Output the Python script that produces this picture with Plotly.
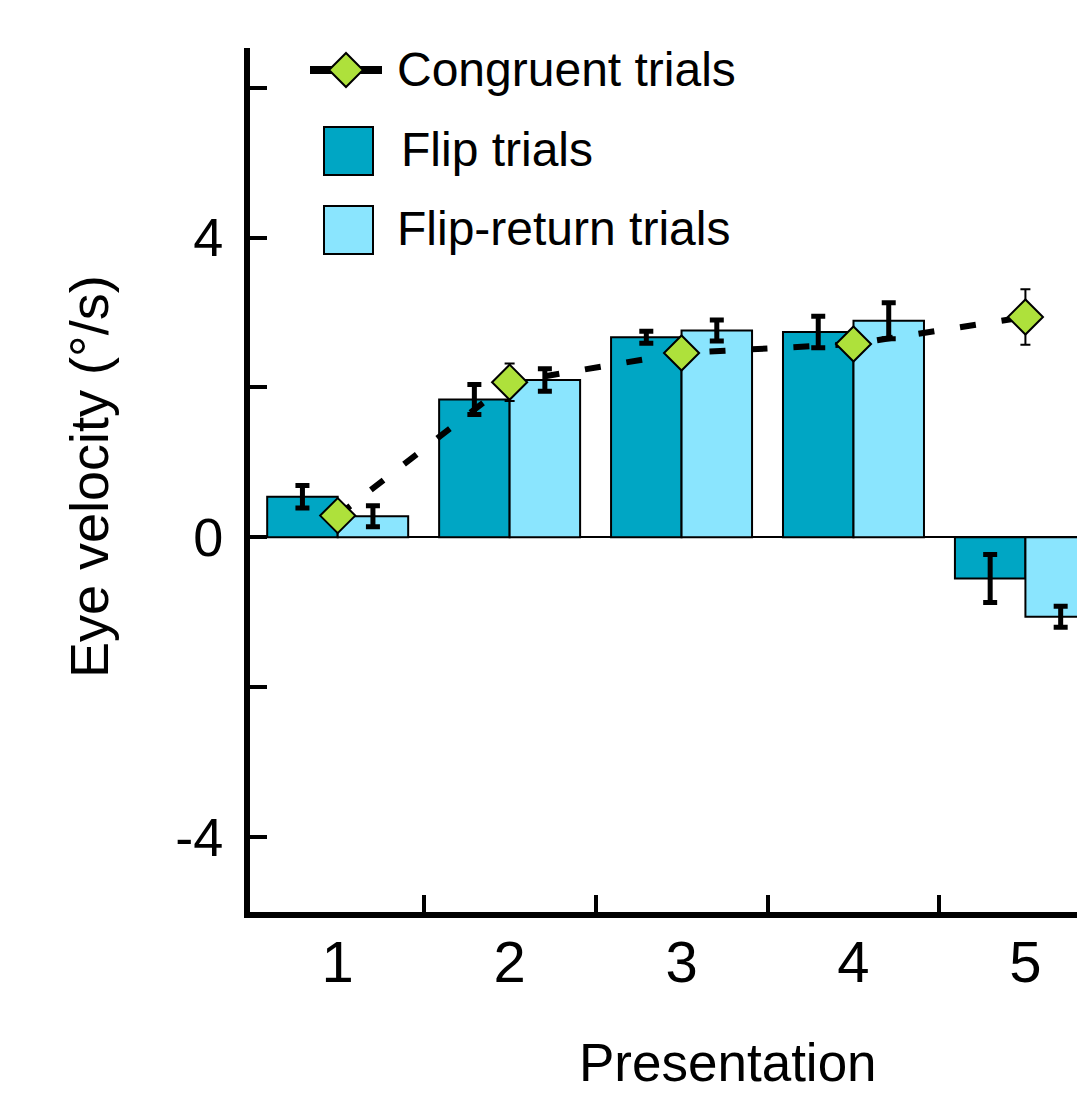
import plotly.graph_objects as go

# ---- data ----
presentations = [1, 2, 3, 4, 5]
tick_labels = ["1", "2", "3", "4", "5"]
flip = [0.54, 1.84, 2.67, 2.74, -0.55]
flip_err = [0.15, 0.20, 0.08, 0.21, 0.32]
flip_return = [0.28, 2.10, 2.76, 2.89, -1.06]
flip_return_err = [0.14, 0.15, 0.14, 0.24, 0.14]
congruent = [0.29, 2.07, 2.46, 2.58, 2.94]
congruent_err = [0.10, 0.25, 0.12, 0.12, 0.37]

series_names = ["Congruent trials", "Flip trials", "Flip-return trials"]
y_tickvals = [-4, -2, 0, 2, 4, 6]
y_ticktext = ["-4", "", "0", "", "4", ""]

# ---- style ----
FONT = "Liberation Sans, Arial, Helvetica, sans-serif"
DARK = "#00A6C4"
LIGHT = "#8AE5FE"
GREEN = "#AEE13B"

W, H = 1077, 1094
ML, MR, MT, MB = 250, 0, 48, 182
PW, PH = W - ML - MR, H - MT - MB


def px(x):
    return (x - ML) / PW


def py(y):
    return (H - MB - y) / PH


fig = go.Figure()

fig.add_trace(go.Bar(
    x=presentations, y=flip, name=series_names[1],
    marker=dict(color=DARK, line=dict(color="black", width=2)),
    error_y=dict(type="data", array=flip_err, color="black", thickness=5, width=7),
    showlegend=False,
))
fig.add_trace(go.Bar(
    x=presentations, y=flip_return, name=series_names[2],
    marker=dict(color=LIGHT, line=dict(color="black", width=2)),
    error_y=dict(type="data", array=flip_return_err, color="black", thickness=5, width=7),
    showlegend=False,
))
fig.add_trace(go.Scatter(
    x=presentations, y=congruent, name=series_names[0],
    mode="lines+markers",
    line=dict(color="black", width=6, dash="16px,26px"),
    marker=dict(symbol="diamond", size=27, color=GREEN, line=dict(color="black", width=2)),
    error_y=dict(type="data", array=congruent_err, color="black", thickness=2, width=5),
    showlegend=False,
))

shapes = []
annotations = []

# ---- manual legend ----
shapes.append(dict(type="line", xref="paper", yref="paper",
                   x0=px(310), x1=px(382), y0=py(70), y1=py(70),
                   line=dict(color="black", width=8)))
cx, cy, r = 346, 70, 17
shapes.append(dict(type="path", xref="paper", yref="paper",
                   path=f"M {px(cx-r)},{py(cy)} L {px(cx)},{py(cy-r)} L {px(cx+r)},{py(cy)} L {px(cx)},{py(cy+r)} Z",
                   fillcolor=GREEN, line=dict(color="black", width=2)))
shapes.append(dict(type="rect", xref="paper", yref="paper",
                   x0=px(324), x1=px(373), y0=py(127), y1=py(175),
                   fillcolor=DARK, line=dict(color="black", width=2)))
shapes.append(dict(type="rect", xref="paper", yref="paper",
                   x0=px(324), x1=px(373), y0=py(206), y1=py(254),
                   fillcolor=LIGHT, line=dict(color="black", width=2)))

legend_pos = [(395, 69), (399, 149), (395, 229)]
for name, (lx, ly) in zip(series_names, legend_pos):
    annotations.append(dict(text=name, xref="paper", yref="paper",
                            x=px(lx), y=py(ly), xanchor="left", yanchor="middle",
                            showarrow=False, font=dict(family=FONT, size=48, color="black")))

# axis titles
annotations.append(dict(text="Presentation", xref="paper", yref="paper",
                        x=px(728), y=py(1062), xanchor="center", yanchor="middle",
                        showarrow=False, font=dict(family=FONT, size=53, color="black")))
annotations.append(dict(text="Eye velocity (°/s)", xref="paper", yref="paper",
                        x=px(89), y=py(477), xanchor="center", yanchor="middle",
                        textangle=-90,
                        showarrow=False, font=dict(family=FONT, size=54, color="black")))

fig.update_layout(
    width=W, height=H,
    margin=dict(l=ML, r=MR, t=MT, b=MB, pad=0),
    paper_bgcolor="white", plot_bgcolor="white",
    barmode="group", bargap=0.18, bargroupgap=0,
    font=dict(family=FONT, color="black"),
    shapes=shapes, annotations=annotations,
    showlegend=False,
)

fig.update_xaxes(
    range=[0.49, 5.30], showgrid=False, zeroline=False,
    showline=True, linewidth=6, linecolor="black",
    tickmode="array", tickvals=presentations, ticktext=tick_labels,
    ticks="", tickfont=dict(family=FONT, size=58, color="black"),
    ticklabelstandoff=-6,
    minor=dict(tickvals=[1.5, 2.5, 3.5, 4.5], ticks="inside", ticklen=17,
               tickwidth=4, tickcolor="black", showgrid=False),
)
fig.update_yaxes(
    range=[-5, 6.53], showgrid=False,
    zeroline=True, zerolinecolor="black", zerolinewidth=2,
    showline=True, linewidth=6, linecolor="black",
    tickmode="array", tickvals=y_tickvals, ticktext=y_ticktext,
    ticks="inside", ticklen=17, tickwidth=4, tickcolor="black",
    tickfont=dict(family=FONT, size=54, color="black"),
    ticklabelstandoff=10,
)

fig.write_html("out.html")
